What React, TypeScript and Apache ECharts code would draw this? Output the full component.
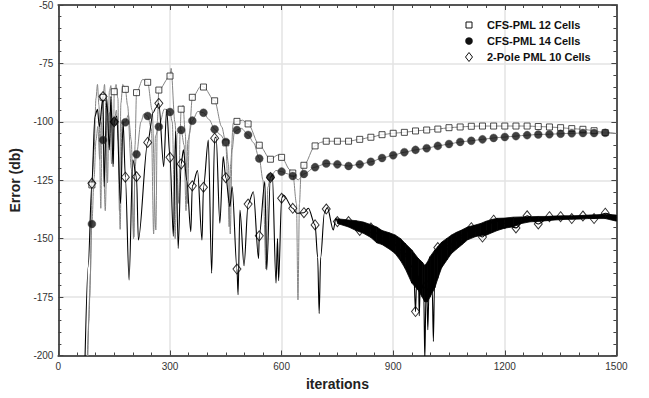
import React, { useEffect, useRef } from 'react';
import * as echarts from 'echarts';

// ---------- data (iterations / error in dB) ----------
const markerIters = [
  90, 120, 150, 180, 210, 240, 270, 300, 330, 360, 390, 420, 450, 480, 510, 540,
  570, 600, 630, 660, 690, 720, 750, 780, 810, 840, 870, 900, 930, 960, 990, 1020,
  1050, 1080, 1110, 1140, 1170, 1200, 1230, 1260, 1290, 1320, 1350, 1380, 1410, 1440, 1470,
];

const cfs12Markers = [
  -127, -89.5, -87.1, -86.1, -87.5, -83.1, -86.4, -80.4, -94.6, -89.5, -85.1, -91, -109, -99.8, -100.9, -110,
  -116, -115.2, -121.9, -118.6, -110.3, -108.3, -108.3, -108.3, -107.5, -106.6, -105.5, -104.9, -104.5, -103.9, -103.5, -103.1,
  -102.5, -102.2, -101.9, -101.8, -101.8, -101.8, -101.8, -101.8, -102, -102.2, -102.5, -102.9, -103.2, -103.8, -104.6,
];

const cfs14Markers = [
  -143.7, -107.8, -100, -100.2, -113.9, -97.5, -102.1, -95.8, -103.5, -99.5, -96.1, -103.2, -108.6, -103.5, -105.6, -115.7,
  -123.6, -121.3, -123.2, -122.3, -119.4, -117.8, -118.2, -118.9, -118.2, -117.1, -115.5, -114.3, -113, -112, -111.3, -110.3,
  -109.5, -108.6, -108.1, -107.5, -106.9, -106.5, -106.1, -105.7, -105.4, -105.3, -105.1, -104.9, -104.8, -104.8, -104.7,
];

const pole2Markers = [
  -126.3, -89.2, -100, -123.7, -123.5, -108.8, -92.1, -115.2, -118, -127.4, -128, -107, -123.9, -163, -135.2, -148.8,
  -123.8, -132.7, -137, -138.9, -144.1, -137.3, -142.7, -142.7, -146.5, -145.4, -149.8, -152, -156, -181.2, -170, -153.8,
  -153, -150, -145.3, -149.3, -142.1, -143.5, -145.4, -140.2, -143.7, -140.6, -140.6, -141.4, -140.3, -141.4, -139.1,
];

// extra points of each trace between the markers (peaks and dips)
const cfs12Detail = [
  [76, -210], [82, -185], [86, -165], [96, -112], [101, -90], [105, -84], [109, -93], [114, -137], [118, -95],
  [124, -84], [128, -97], [132, -126], [137, -87], [141, -84.5], [145, -98], [148, -118], [155, -84], [160, -90],
  [164, -138], [168, -92], [173, -84], [178, -85], [186, -93], [196, -120], [203, -149.2], [206, -110], [227, -81.8],
  [252, -95], [262, -146.3], [266, -100], [303, -77.1], [313, -100], [324, -134.9], [327, -105], [335, -93],
  [341, -105], [347, -134.9], [352, -105], [385, -84.5], [439, -102.1], [455, -125], [459, -144.9], [463, -118],
  [470, -100.6], [495, -99.3], [590, -114.2], [623, -120.6], [640, -135], [644, -176.2], [648, -135], [652, -123],
  [705, -108.8], [1500, -105],
];

const cfs14Detail = [
  [78, -210], [84, -175], [96, -124], [101, -108], [106, -102], [111, -116], [115, -100], [126, -138], [132, -99],
  [138, -96], [143, -118], [156, -95], [161, -108], [166, -146], [171, -100], [188, -97], [196, -108], [202, -150],
  [206, -120], [222, -100], [230, -96.5], [250, -103], [256, -148], [261, -106], [285, -94.5], [306, -100],
  [314, -150], [319, -105], [338, -110], [343, -138], [348, -108], [375, -95.5], [405, -99], [435, -105.5],
  [457, -118], [462, -148], [467, -112], [473, -104.5], [492, -102.8], [525, -109], [550, -125], [558, -163],
  [563, -128], [585, -120.8], [615, -122.2], [645, -124.8], [1500, -105],
];

const pole2Detail = [
  [71, -205], [80, -162], [98, -97.8], [105, -94.6], [110, -102.1], [123, -127.7], [130, -89.9], [137, -112],
  [141, -89.2], [147, -119.2], [157, -97.5], [167, -134.9], [174, -100], [190, -167.7], [200, -116.3],
  [215, -150.6], [255, -96], [262, -94], [283, -119.2], [291, -94.6], [309, -149], [315, -104], [322, -154.2],
  [336, -112], [345, -125], [356, -147], [374, -120.9], [386, -150.6], [403, -107.8], [412, -164.8],
  [424, -106.5], [434, -143.4], [443, -114.9], [461, -136.3], [467, -127.7], [483, -174], [488, -137.7],
  [499, -161.6], [524, -129.9], [538, -158.5], [555, -125.6], [560, -163.4], [575, -122.7], [585, -169],
  [589, -150], [592, -168], [605, -131.3], [641, -139.1], [672, -137], [697, -158], [701, -182], [705, -158],
  [715, -139], [723, -136.7], [739, -146.3], [746, -141.3],
  [955, -163], [963, -168], [968, -166], [970, -183], [973, -168], [982, -172], [985, -202], [988, -174],
  [993, -189], [996, -174], [1005, -172], [1008, -194], [1011, -170], [1500, -141],
];

// envelope of the fast-oscillating part of the 2-pole PML trace
const bandIters = [
  750, 780, 800, 820, 840, 856, 870, 890, 905, 920, 932, 950, 967, 978, 985, 992, 999, 1012, 1020, 1030,
  1045, 1057, 1070, 1084, 1100, 1120, 1135, 1150, 1165, 1180, 1200, 1223, 1245, 1268, 1290, 1313, 1335,
  1357, 1380, 1402, 1425, 1447, 1470, 1500,
];
const bandUpper = [
  -141.5, -142, -142.3, -142.9, -144, -145, -146.5, -147.5, -148.4, -150, -152, -154.8, -158.4, -160, -161.5,
  -160, -157.7, -154.8, -153.4, -151.5, -149.8, -148.4, -147.3, -146.3, -145, -144.2, -143.5, -142.5, -141.8,
  -141.3, -141.2, -140.8, -140.7, -140.6, -140.5, -140.5, -140.3, -140.2, -140.2, -140.1, -139.9, -139.8,
  -139.5, -139.9,
];
const bandLower = [
  -143.5, -145, -146.5, -147.7, -149.5, -151.8, -152.5, -154.5, -156.3, -159.5, -162.7, -169, -172, -175,
  -177, -177, -175, -171, -167, -162.5, -159, -156.3, -154.5, -152.7, -150.5, -149.2, -148.6, -148.5, -147.5,
  -146.5, -145.5, -144.9, -143.5, -142.8, -142.6, -142.3, -142, -141.8, -141.7, -141.6, -141.4, -141.4,
  -141.4, -142.5,
];

const xTicks = { min: 0, max: 1500, interval: 300 };
const yTicks = { min: -200, max: -50, interval: 25 };

const seriesNames = ['CFS-PML 12 Cells', 'CFS-PML 14 Cells', '2-Pole PML 10 Cells'];

const FONT = '"Liberation Sans", Arial, Helvetica, sans-serif';

function merged(iters: number[], vals: number[], detail: number[][]) {
  const pts = iters.map((x, i) => [x, vals[i]]).concat(detail);
  pts.sort((a, b) => a[0] - b[0]);
  return pts;
}

export default function App() {
  const ref = useRef<HTMLDivElement>(null);

  useEffect(() => {
    if (!ref.current) return;
    const chart = echarts.init(ref.current, undefined, { renderer: 'svg' });

    const axisLine = { show: true, onZero: false, lineStyle: { color: '#555', width: 2 } };
    const axisTick = { show: true, inside: true, length: 5, lineStyle: { color: '#444', width: 1 } };
    const gridLine = { show: true, lineStyle: { color: '#e3e3e3', width: 1.5 } };
    const plain = (v: number) => String(v);

    const lineBase = {
      type: 'line',
      showSymbol: false,
      smooth: 0.3,
      smoothMonotone: 'x',
      silent: true,
      z: 2,
    };

    const option: any = {
      animation: false,
      textStyle: { fontFamily: FONT },
      grid: { left: 58.4, top: 5, right: 32.6, bottom: 42.5, containLabel: false },
      xAxis: [
        {
          type: 'value', ...xTicks, position: 'bottom',
          axisLine, axisTick,
          minorTick: { show: true, splitNumber: 6, length: 3, lineStyle: { color: '#444' } },
          splitLine: gridLine,
          axisLabel: { fontSize: 10, color: '#333', margin: 6, fontFamily: FONT, formatter: plain },
          name: 'iterations', nameLocation: 'middle', nameGap: 21,
          nameTextStyle: { fontWeight: 'bold', fontSize: 14, color: '#222', fontFamily: FONT },
        },
        {
          type: 'value', ...xTicks, position: 'top',
          axisLine, axisTick,
          minorTick: { show: true, splitNumber: 6, length: 3, lineStyle: { color: '#444' } },
          splitLine: { show: false }, axisLabel: { show: false },
        },
      ],
      yAxis: [
        {
          type: 'value', ...yTicks, position: 'left',
          axisLine, axisTick,
          minorTick: { show: true, splitNumber: 5, length: 3, lineStyle: { color: '#444' } },
          splitLine: gridLine,
          axisLabel: { fontSize: 10, color: '#333', margin: 5, fontFamily: FONT, formatter: plain },
          name: 'Error (db)', nameLocation: 'middle', nameGap: 25, nameRotate: 90,
          nameTextStyle: { fontWeight: 'bold', fontSize: 14, color: '#222', fontFamily: FONT },
        },
        {
          type: 'value', ...yTicks, position: 'right',
          axisLine, axisTick,
          minorTick: { show: true, splitNumber: 5, length: 3, lineStyle: { color: '#444' } },
          splitLine: { show: false }, axisLabel: { show: false },
        },
      ],
      series: [
        {
          ...lineBase, name: seriesNames[0] + ' line',
          data: merged(markerIters, cfs12Markers, cfs12Detail),
          lineStyle: { color: '#858585', width: 1 },
        },
        {
          ...lineBase, name: seriesNames[1] + ' line',
          data: merged(markerIters, cfs14Markers, cfs14Detail),
          lineStyle: { color: '#858585', width: 1 },
        },
        {
          ...lineBase, name: seriesNames[2] + ' line', z: 3,
          data: merged(markerIters, pole2Markers, pole2Detail),
          lineStyle: { color: '#000', width: 1.1 },
        },
        {
          type: 'custom', name: 'band', silent: true, z: 3, clip: true,
          data: bandIters.map((x, i) => [x, bandUpper[i], bandLower[i]]),
          encode: { x: 0, y: [1, 2] },
          renderItem: (params: any, api: any) => {
            const i = params.dataIndex;
            if (i >= bandIters.length - 1) return null;
            const a = api.coord([bandIters[i], bandUpper[i]]);
            const b = api.coord([bandIters[i + 1], bandUpper[i + 1]]);
            const c = api.coord([bandIters[i + 1], bandLower[i + 1]]);
            const d = api.coord([bandIters[i], bandLower[i]]);
            return {
              type: 'polygon',
              shape: { points: [a, b, c, d] },
              style: { fill: '#000', stroke: '#000', lineWidth: 0.8 },
            };
          },
        },
        {
          type: 'scatter', name: seriesNames[0], z: 5, silent: true,
          data: markerIters.map((x, i) => [x, cfs12Markers[i]]),
          symbol: 'rect', symbolSize: 6,
          itemStyle: { color: '#fff', borderColor: '#222', borderWidth: 1 },
        },
        {
          type: 'scatter', name: seriesNames[1], z: 5, silent: true,
          data: markerIters.map((x, i) => [x, cfs14Markers[i]]),
          symbol: 'circle', symbolSize: 8,
          itemStyle: { color: '#111', borderColor: '#555', borderWidth: 0.5 },
        },
        {
          type: 'scatter', name: seriesNames[2], z: 5, silent: true,
          data: markerIters.map((x, i) => [x, pole2Markers[i]]),
          symbol: 'diamond', symbolSize: [8, 10],
          itemStyle: { color: 'rgba(255,255,255,0)', borderColor: '#000', borderWidth: 1 },
        },
      ],
      graphic: [
        {
          type: 'rect', shape: { x: 466, y: 22, width: 6, height: 6 },
          style: { fill: '#fff', stroke: '#111', lineWidth: 1 }, z: 10,
        },
        {
          type: 'circle', shape: { cx: 469, cy: 41, r: 3.8 },
          style: { fill: '#111' }, z: 10,
        },
        {
          type: 'polygon', shape: { points: [[469, 52.5], [472.5, 57], [469, 61.5], [465.5, 57]] },
          style: { fill: '#fff', stroke: '#111', lineWidth: 1 }, z: 10,
        },
        {
          type: 'text', x: 487, y: 25, z: 10,
          style: { text: seriesNames[0], font: 'bold 11px ' + FONT, fill: '#111', verticalAlign: 'middle' },
        },
        {
          type: 'text', x: 487, y: 41, z: 10,
          style: { text: seriesNames[1], font: 'bold 11px ' + FONT, fill: '#111', verticalAlign: 'middle' },
        },
        {
          type: 'text', x: 487, y: 57, z: 10,
          style: { text: seriesNames[2], font: 'bold 11px ' + FONT, fill: '#111', verticalAlign: 'middle' },
        },
      ],
    };

    chart.setOption(option);
    return () => chart.dispose();
  }, []);

  return (
    <div
      ref={ref}
      style={{ position: 'fixed', left: 0, top: 0, width: 649, height: 398, background: '#fff' }}
    />
  );
}
